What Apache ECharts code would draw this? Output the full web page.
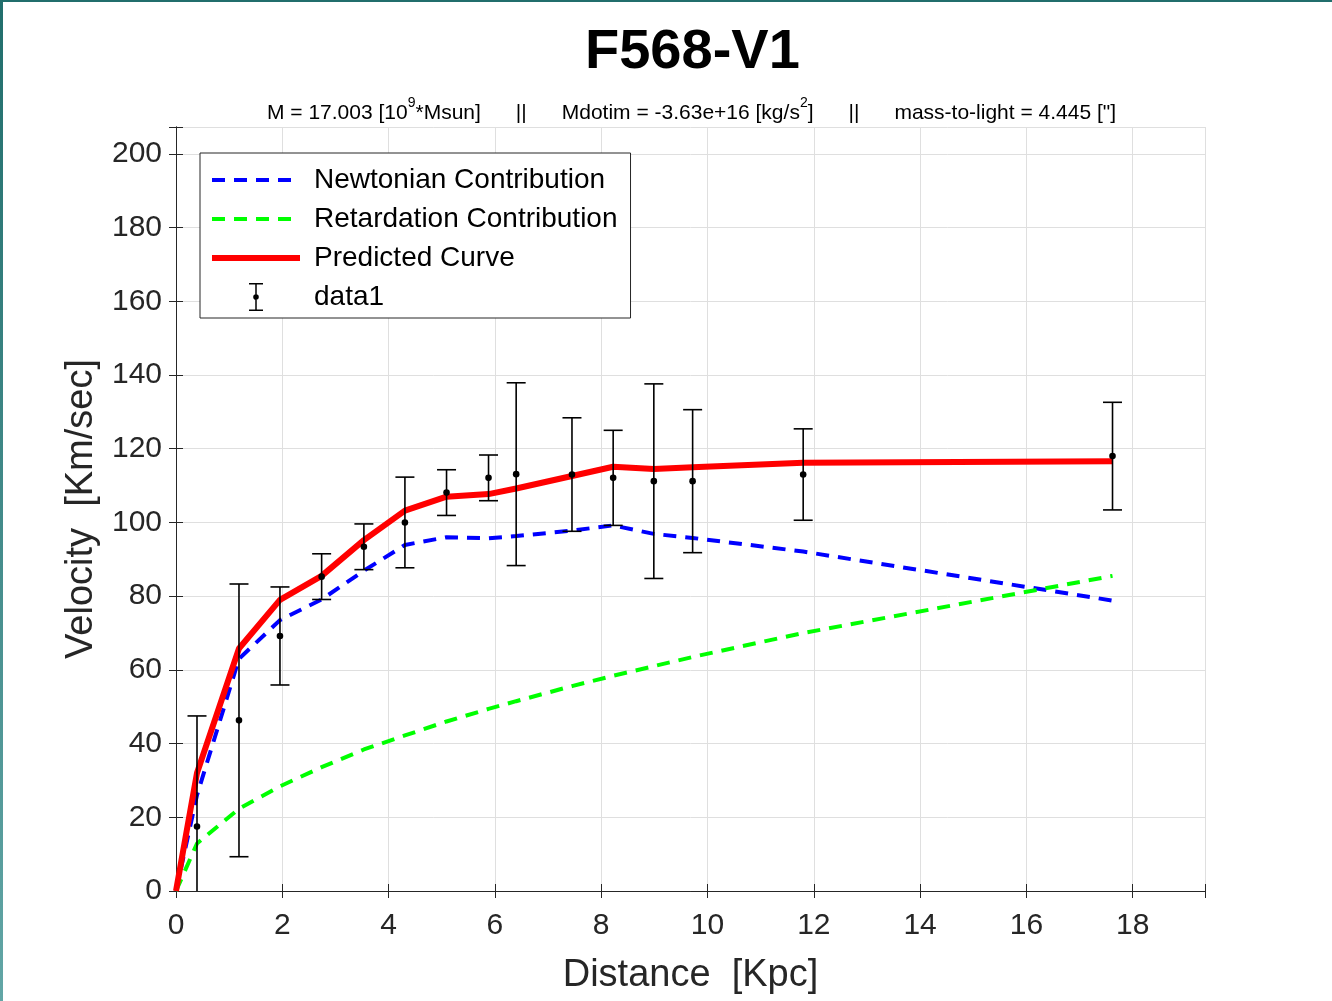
<!DOCTYPE html>
<html>
<head>
<meta charset="utf-8">
<script src="https://cdn.jsdelivr.net/npm/echarts@6/dist/echarts.min.js"></script>
<style>html,body{margin:0;padding:0;background:#fff;}#c{width:1332px;height:1001px;}</style>
</head>
<body>
<div id="c"></div>
<script>
// ---- data ----
const radius = [0, 0.395, 1.185, 1.956, 2.74, 3.535, 4.307, 5.09, 5.88, 6.40, 7.45, 8.225, 8.99, 9.72, 11.8, 17.62];
const newtonian = [0, 26.0, 63.0, 73.5, 79.1, 86.9, 93.9, 96.0, 95.7, 96.3, 97.8, 99.2, 96.9, 95.8, 92.1, 78.8];
const retardation = [0, 12.9, 22.3, 28.4, 33.6, 38.4, 42.2, 46.0, 49.4, 51.5, 55.6, 58.4, 61.0, 63.5, 70.0, 85.5];
const predicted = [0, 32.0, 65.8, 79.0, 85.5, 95.2, 103.2, 107.0, 107.7, 109.2, 112.6, 115.1, 114.5, 115.0, 116.2, 116.6];

const obsRadius = [0.395, 1.185, 1.956, 2.74, 3.535, 4.307, 5.09, 5.88, 6.40, 7.45, 8.225, 8.99, 9.72, 11.8, 17.62];
const obsVelocity = [17.5, 46.3, 69.2, 85.3, 93.4, 100.0, 108.1, 112.1, 113.1, 113.0, 112.1, 111.2, 111.2, 113.0, 118.0];
const obsError = [30.0, 37.0, 13.3, 6.2, 6.2, 12.3, 6.2, 6.2, 24.8, 15.4, 12.9, 26.4, 19.4, 12.4, 14.6];

const xTicks = [0, 2, 4, 6, 8, 10, 12, 14, 16, 18];
const yTicks = [0, 20, 40, 60, 80, 100, 120, 140, 160, 180, 200];

const titleText = 'F568-V1';
const seriesNames = ['Newtonian Contribution', 'Retardation Contribution', 'Predicted Curve', 'data1'];

// ---- chart ----
const FONT = '"Liberation Sans", Arial, Helvetica, sans-serif';
const AX = '#262626';
const chart = echarts.init(document.getElementById('c'), null, {renderer: 'canvas'});

const pair = (xs, ys) => xs.map((x, i) => [x, ys[i]]);
const errData = obsRadius.map((x, i) => [x, obsVelocity[i], obsVelocity[i] - obsError[i], obsVelocity[i] + obsError[i]]);

const XMAX = 19.36, YMAX = 207.3;
const baseAxis = {
  axisLine: {show: true, lineStyle: {color: AX, width: 1}},
  axisTick: {show: true, inside: true, length: 7, lineStyle: {color: AX, width: 1}},
  splitLine: {show: false},
};
const DASH = [13, 9];
const SP = '      ';

const option = {
  backgroundColor: '#ffffff',
  animation: false,
  title: [
    {text: titleText, left: 585, top: 25, padding: 0,
     textStyle: {fontFamily: FONT, fontSize: 56, fontWeight: 'bold', color: '#000'}},
    {text: '{a|M = 17.003 [10}{s|9}{a|*Msun]' + SP + '||' + SP + 'Mdotim = -3.63e+16 [kg/s}{s|2}{a|]' + SP + '||' + SP + 'mass-to-light = 4.445 ["]}',
     left: 267, top: 96, padding: 0,
     textStyle: {fontWeight: 'normal', rich: {
       a: {fontFamily: FONT, fontSize: 21, fontWeight: 'normal', color: '#000', lineHeight: 28, verticalAlign: 'bottom'},
       s: {fontFamily: FONT, fontSize: 14, fontWeight: 'normal', color: '#000', lineHeight: 28, verticalAlign: 'top'}
     }}}
  ],
  graphic: [
    {type: 'rect', left: 0, top: 0, shape: {width: 1332, height: 2}, style: {fill: '#216e6c'}, silent: true},
    {type: 'rect', left: 0, top: 0, shape: {width: 3, height: 1001},
     style: {fill: new echarts.graphic.LinearGradient(0, 0, 0, 1, [{offset: 0, color: '#216e6c'}, {offset: 1, color: '#62a6a6'}])}, silent: true}
  ],
  grid: {left: 176, right: 127, top: 127, bottom: 110, containLabel: false},
  legend: {
    orient: 'vertical', left: 200, top: 153,
    padding: [13, 13, 7, 9],
    itemWidth: 88, itemHeight: 28, itemGap: 11,
    backgroundColor: '#fff', borderColor: AX, borderWidth: 1,
    textStyle: {fontFamily: FONT, fontSize: 28, color: '#000', padding: [0, 0, 0, 9]},
    data: [
      {name: seriesNames[0], itemStyle: {opacity: 0}, lineStyle: {width: 4, type: DASH}},
      {name: seriesNames[1], itemStyle: {opacity: 0}, lineStyle: {width: 4, type: DASH}},
      {name: seriesNames[2], itemStyle: {opacity: 0}, lineStyle: {width: 6}},
      {name: seriesNames[3], icon: 'path://M0,0H14V1.5H0Z M6.25,0H7.75V28H6.25Z M0,26.5H14V28H0Z M7,11.2A2.8,2.8 0 1 1 6.99,11.2Z', itemStyle: {color: '#000', opacity: 1}}
    ],
    selectedMode: false
  },
  xAxis: [
    Object.assign({}, baseAxis, {
      type: 'value', min: 0, max: XMAX, interval: 2, position: 'bottom',
      name: 'Distance  [Kpc]', nameLocation: 'middle', nameGap: 66,
      nameTextStyle: {fontFamily: FONT, fontSize: 38, color: AX},
      axisLabel: {fontFamily: FONT, fontSize: 30, color: AX, margin: 20,
        formatter: v => xTicks.indexOf(v) >= 0 ? String(v) : ''},
      splitLine: {show: true, lineStyle: {color: '#dfdfdf', width: 1}}
    }),
    Object.assign({}, baseAxis, {
      type: 'value', min: 0, max: XMAX, interval: 2, position: 'top',
      axisLabel: {show: false}
    })
  ],
  yAxis: [
    Object.assign({}, baseAxis, {
      type: 'value', min: 0, max: YMAX, interval: 20, position: 'left',
      name: 'Velocity  [Km/sec]', nameLocation: 'middle', nameGap: 75,
      nameTextStyle: {fontFamily: FONT, fontSize: 38, color: AX},
      axisLabel: {fontFamily: FONT, fontSize: 30, color: AX, margin: 14,
        formatter: v => yTicks.indexOf(v) >= 0 ? String(v) : ''},
      splitLine: {show: true, lineStyle: {color: '#dfdfdf', width: 1}}
    }),
    Object.assign({}, baseAxis, {
      type: 'value', min: 0, max: YMAX, interval: 20, position: 'right',
      axisLabel: {show: false}
    })
  ],
  series: [
    {name: seriesNames[0], type: 'line', data: pair(radius, newtonian), symbol: 'none', z: 3,
     lineStyle: {color: '#0000ff', width: 4, type: DASH}, itemStyle: {color: '#0000ff'}},
    {name: seriesNames[1], type: 'line', data: pair(radius, retardation), symbol: 'none', z: 3,
     lineStyle: {color: '#00ff00', width: 4, type: DASH}, itemStyle: {color: '#00ff00'}},
    {name: seriesNames[2], type: 'line', data: pair(radius, predicted), symbol: 'none', z: 4,
     lineStyle: {color: '#ff0000', width: 6}, itemStyle: {color: '#ff0000'}},
    {name: seriesNames[3], type: 'custom', z: 5, data: errData, itemStyle: {color: '#000'},
     renderItem: function (params, api) {
       const cs = params.coordSys;
       const x = api.value(0);
       const c = api.coord([x, api.value(1)]);
       const lo = api.coord([x, api.value(2)]);
       const hi = api.coord([x, api.value(3)]);
       const bottom = cs.y + cs.height, top = cs.y;
       const loClipped = lo[1] > bottom, hiClipped = hi[1] < top;
       const yl = Math.min(lo[1], bottom), yh = Math.max(hi[1], top);
       const cap = 9.5;
       const st = {stroke: '#000', lineWidth: 1.6, fill: null};
       const children = [
         {type: 'line', shape: {x1: c[0], y1: yl, x2: c[0], y2: yh}, style: st}
       ];
       if (!loClipped) children.push({type: 'line', shape: {x1: c[0] - cap, y1: yl, x2: c[0] + cap, y2: yl}, style: st});
       if (!hiClipped) children.push({type: 'line', shape: {x1: c[0] - cap, y1: yh, x2: c[0] + cap, y2: yh}, style: st});
       children.push({type: 'circle', shape: {cx: c[0], cy: c[1], r: 3.3}, style: {fill: '#000'}});
       return {type: 'group', children: children};
     }}
  ]
};
chart.setOption(option);
</script>
</body>
</html>
